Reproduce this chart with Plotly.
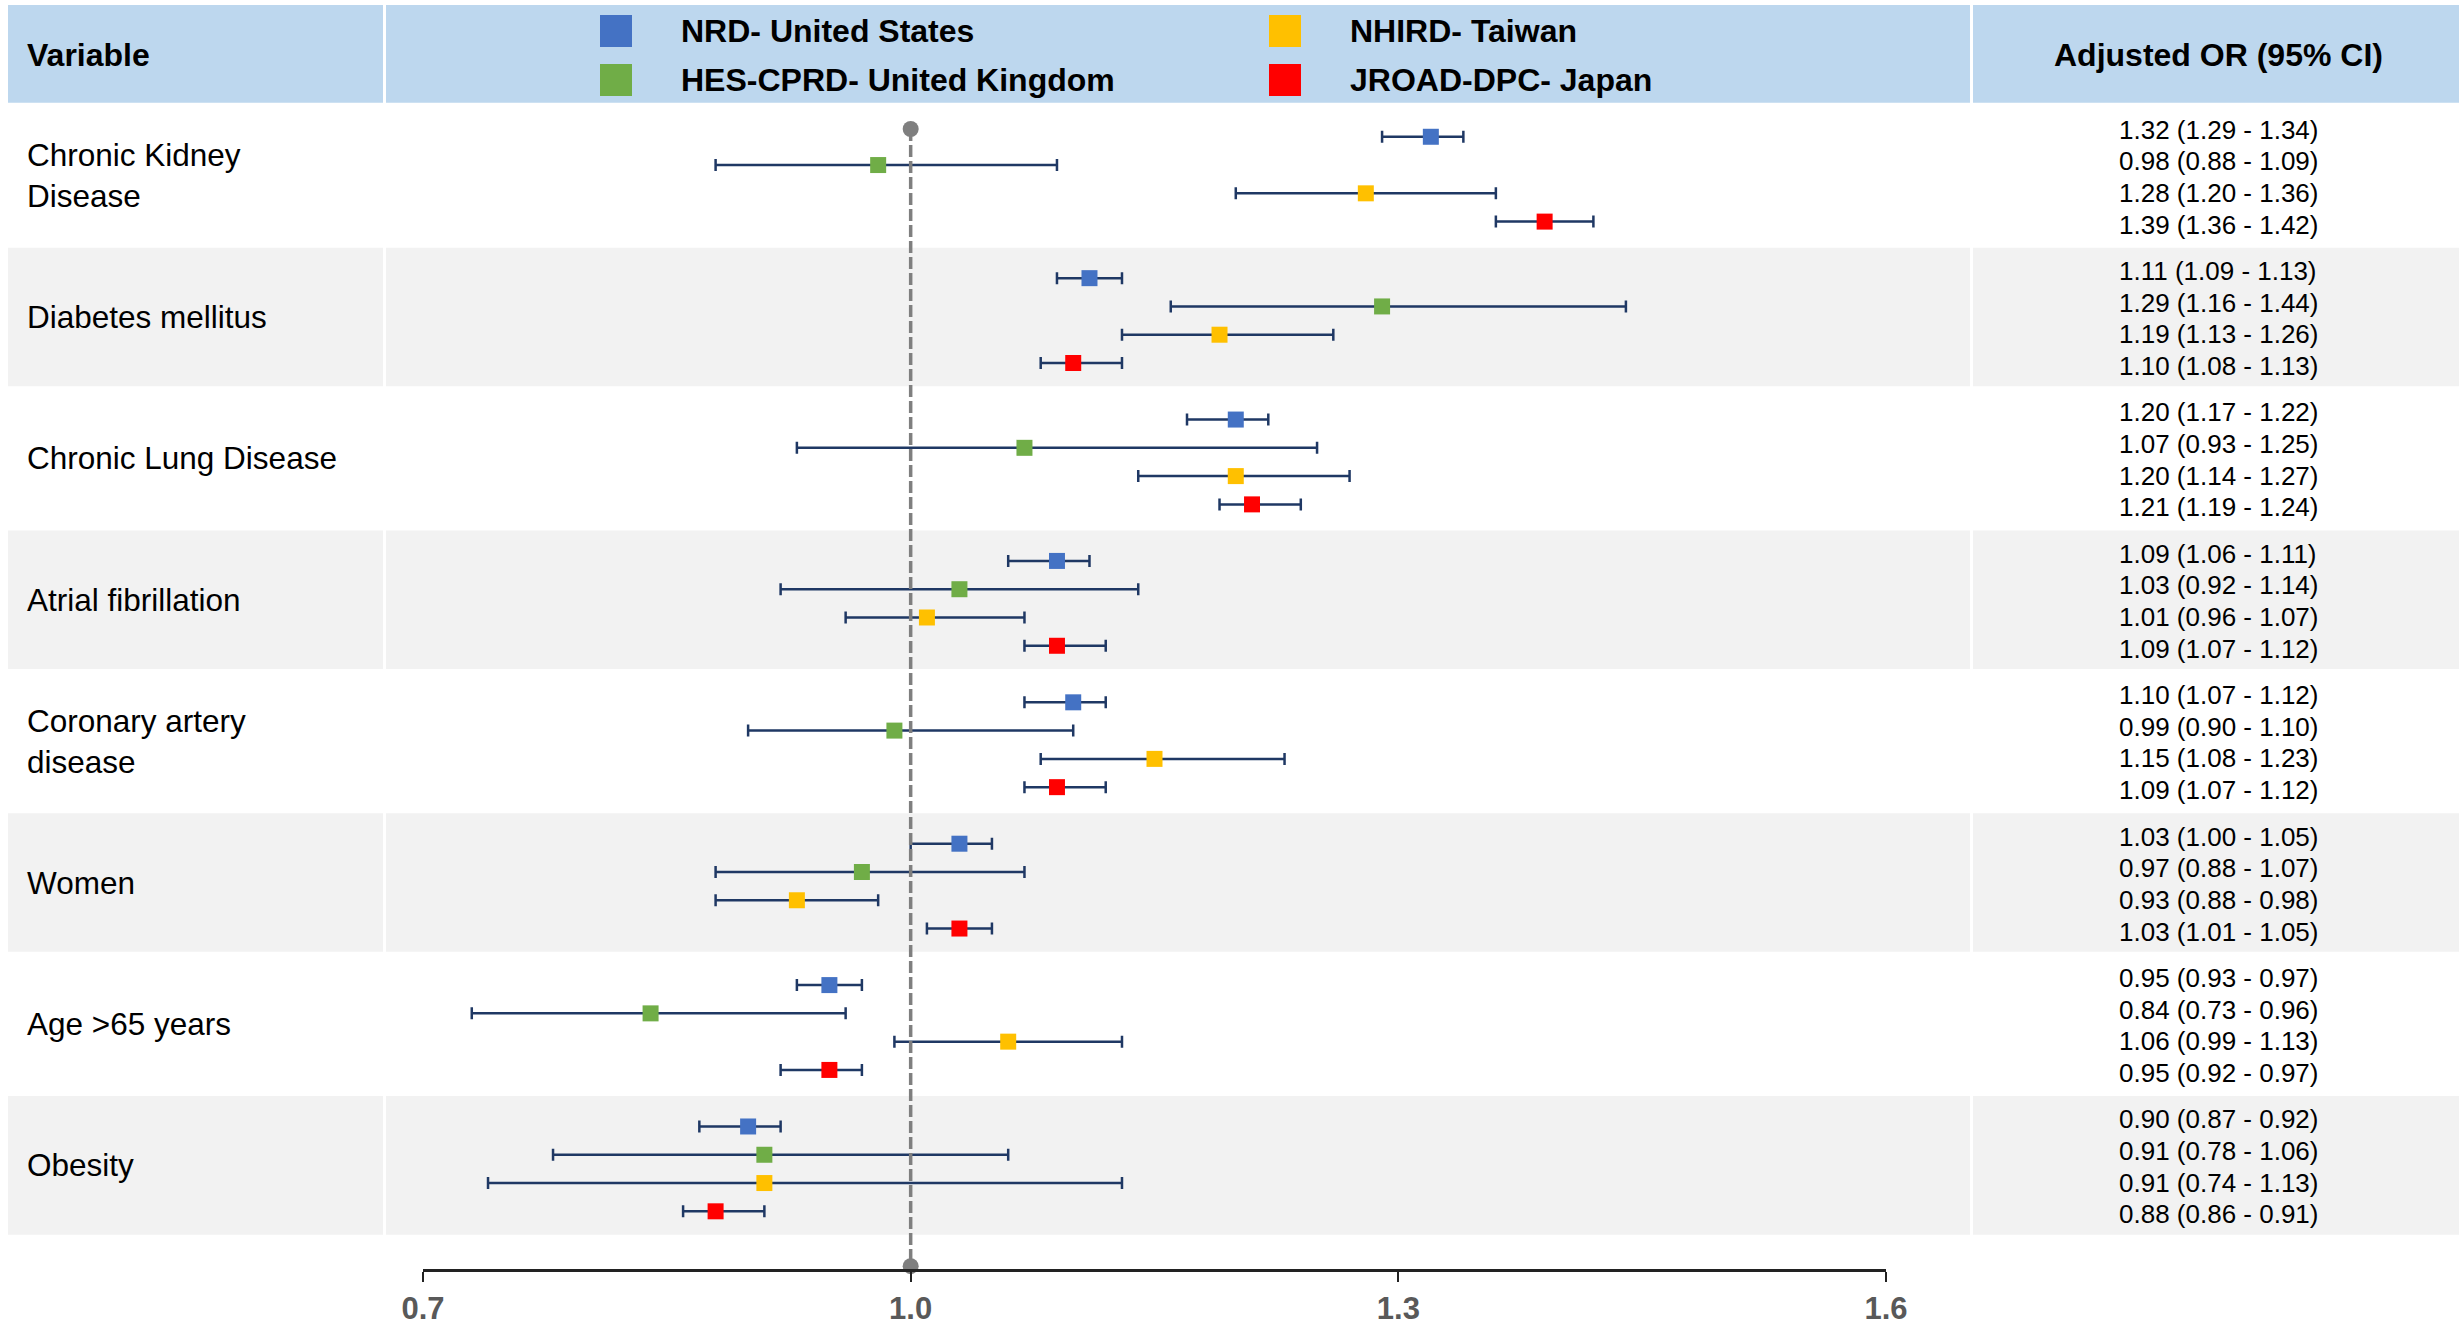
import plotly.graph_objects as go

# ---------------- data ----------------
variables = ["Chronic Kidney<br>Disease", "Diabetes mellitus", "Chronic Lung Disease",
             "Atrial fibrillation", "Coronary artery<br>disease", "Women",
             "Age >65 years", "Obesity"]
studies = ["NRD- United States", "HES-CPRD- United Kingdom", "NHIRD- Taiwan", "JROAD-DPC- Japan"]
colors = ["#4472C4", "#70AD47", "#FFC000", "#FF0000"]

or_us = [1.32, 1.11, 1.20, 1.09, 1.10, 1.03, 0.95, 0.90]
lo_us = [1.29, 1.09, 1.17, 1.06, 1.07, 1.00, 0.93, 0.87]
hi_us = [1.34, 1.13, 1.22, 1.11, 1.12, 1.05, 0.97, 0.92]

or_uk = [0.98, 1.29, 1.07, 1.03, 0.99, 0.97, 0.84, 0.91]
lo_uk = [0.88, 1.16, 0.93, 0.92, 0.90, 0.88, 0.73, 0.78]
hi_uk = [1.09, 1.44, 1.25, 1.14, 1.10, 1.07, 0.96, 1.06]

or_tw = [1.28, 1.19, 1.20, 1.01, 1.15, 0.93, 1.06, 0.91]
lo_tw = [1.20, 1.13, 1.14, 0.96, 1.08, 0.88, 0.99, 0.74]
hi_tw = [1.36, 1.26, 1.27, 1.07, 1.23, 0.98, 1.13, 1.13]

or_jp = [1.39, 1.10, 1.21, 1.09, 1.09, 1.03, 0.95, 0.88]
lo_jp = [1.36, 1.08, 1.19, 1.07, 1.07, 1.01, 0.92, 0.86]
hi_jp = [1.42, 1.13, 1.24, 1.12, 1.12, 1.05, 0.97, 0.91]

ref_value = 1.0
tick_vals = [0.7, 1.0, 1.3, 1.6]
tick_text = ["0.7", "1.0", "1.3", "1.6"]

series = [(or_us, lo_us, hi_us), (or_uk, lo_uk, hi_uk),
          (or_tw, lo_tw, hi_tw), (or_jp, lo_jp, hi_jp)]

# ---------------- layout constants ----------------
W, H = 2459, 1326
ROW_PX = 141.4
n = len(variables)
HEADER_TOP = -0.707     # in row units
AXIS_Y = n + 0.233      # axis line position in row units
REF_TOP = 0.17
PT_STEP, PT_OFF = 0.20, 0.025
TX_STEP, TX_OFF = 0.224, 0.01
COL1 = 384 / W
COL2 = 1971 / W
LEFT = 8 / W
FONT = "Liberation Sans, Arial, sans-serif"
NAVY = "#1F3864"

fig = go.Figure()

# header & row backgrounds
shapes = []
cols = [(LEFT, COL1 - 1 / W), (COL1 + 2 / W, COL2 - 1 / W), (COL2 + 2 / W, 1)]
for (a, b) in cols:
    shapes.append(dict(type="rect", xref="paper", yref="y", x0=a, x1=b,
                       y0=HEADER_TOP, y1=-0.015, fillcolor="#BDD7EE", line_width=0, layer="below"))
for i in range(n):
    if i % 2 == 1:
        for (a, b) in cols:
            shapes.append(dict(type="rect", xref="paper", yref="y", x0=a, x1=b,
                               y0=i + 0.01, y1=i + 1 - 0.01, fillcolor="#F2F2F2",
                               line_width=0, layer="below"))

# error bars and markers
for j, (vals, los, his) in enumerate(series):
    ys = [i + 0.5 + PT_OFF + (j - 1.5) * PT_STEP for i in range(n)]
    fig.add_trace(go.Scatter(
        x=vals, y=ys, mode="markers", name=studies[j], showlegend=False,
        marker=dict(symbol="square", size=16, color=colors[j], line=dict(width=0)),
        error_x=dict(type="data", symmetric=False,
                     array=[h - v for h, v in zip(his, vals)],
                     arrayminus=[v - l for v, l in zip(vals, los)],
                     color=NAVY, thickness=2.5, width=6),
        cliponaxis=False))

# reference dashed line
fig.add_trace(go.Scatter(x=[ref_value, ref_value], y=[REF_TOP, AXIS_Y], mode="lines",
                         line=dict(color="#7F7F7F", width=3.5, dash="12px,4px"),
                         hoverinfo="skip", showlegend=False, cliponaxis=False))

# reference circles
fig.add_trace(go.Scatter(x=[ref_value, ref_value], y=[REF_TOP, AXIS_Y - 0.02], mode="markers",
                         marker=dict(symbol="circle", size=16, color="#7F7F7F"),
                         hoverinfo="skip", showlegend=False, cliponaxis=False))

annotations = []
# header texts
annotations.append(dict(text="<b>Variable</b>", xref="paper", yref="y", x=25 / W, y=HEADER_TOP / 2,
                        xanchor="left", yanchor="middle", showarrow=False,
                        font=dict(family=FONT, size=32, color="#000000")))
annotations.append(dict(text="<b>Adjusted OR (95% CI)</b>", xref="paper", yref="y",
                        x=2218 / W, y=HEADER_TOP / 2, xanchor="center", yanchor="middle",
                        showarrow=False, font=dict(family=FONT, size=32, color="#000000")))

# legend inside header
leg_pos = [(616, 0), (616, 1), (1285, 0), (1285, 1)]
leg_y = [31, 80]
for j, (lx, r) in enumerate(leg_pos):
    yy = HEADER_TOP + (leg_y[r] - 5) / ROW_PX
    shapes.append(dict(type="rect", xref="paper", yref="y",
                       x0=(lx - 16) / W, x1=(lx + 16) / W,
                       y0=yy - 16 / ROW_PX, y1=yy + 16 / ROW_PX,
                       fillcolor=colors[j], line_width=0))
    annotations.append(dict(text="<b>" + studies[j] + "</b>", xref="paper", yref="y",
                            x=(lx + 63) / W, y=yy, xanchor="left", yanchor="middle",
                            showarrow=False, font=dict(family=FONT, size=32, color="#000000")))

# variable labels
for i, v in enumerate(variables):
    annotations.append(dict(text=v, xref="paper", yref="y", x=25 / W, y=i + 0.5,
                            xanchor="left", yanchor="middle", align="left", showarrow=False,
                            font=dict(family=FONT, size=31.5, color="#000000")))

# OR text column
for j, (vals, los, his) in enumerate(series):
    for i in range(n):
        txt = f"{vals[i]:.2f} ({los[i]:.2f} - {his[i]:.2f})"
        annotations.append(dict(text=txt, xref="paper", yref="y", x=2218 / W,
                                y=i + 0.5 + TX_OFF + (j - 1.5) * TX_STEP,
                                xanchor="center", yanchor="middle", showarrow=False,
                                font=dict(family=FONT, size=26, color="#000000")))

fig.update_layout(
    width=W, height=H, autosize=False,
    margin=dict(l=0, r=0, t=0, b=0, pad=0, autoexpand=False),
    paper_bgcolor="white", plot_bgcolor="rgba(0,0,0,0)",
    shapes=shapes, annotations=annotations, showlegend=False,
    xaxis=dict(domain=[423 / W, 1886 / W], range=[0.7, 1.6], tickvals=tick_vals,
               ticktext=tick_text, showgrid=False, zeroline=False, showline=True,
               linecolor="#222222", linewidth=2.5, ticks="outside", ticklen=10,
               tickwidth=2, tickcolor="#222222", automargin=False,
               tickfont=dict(family=FONT, size=31, color="#595959", weight="bold")),
    yaxis=dict(domain=[1 - 1269 / H, 1 - 5 / H], range=[AXIS_Y, HEADER_TOP],
               showgrid=False, zeroline=False, showticklabels=False, showline=False,
               automargin=False),
)

fig.write_html("out.html")
